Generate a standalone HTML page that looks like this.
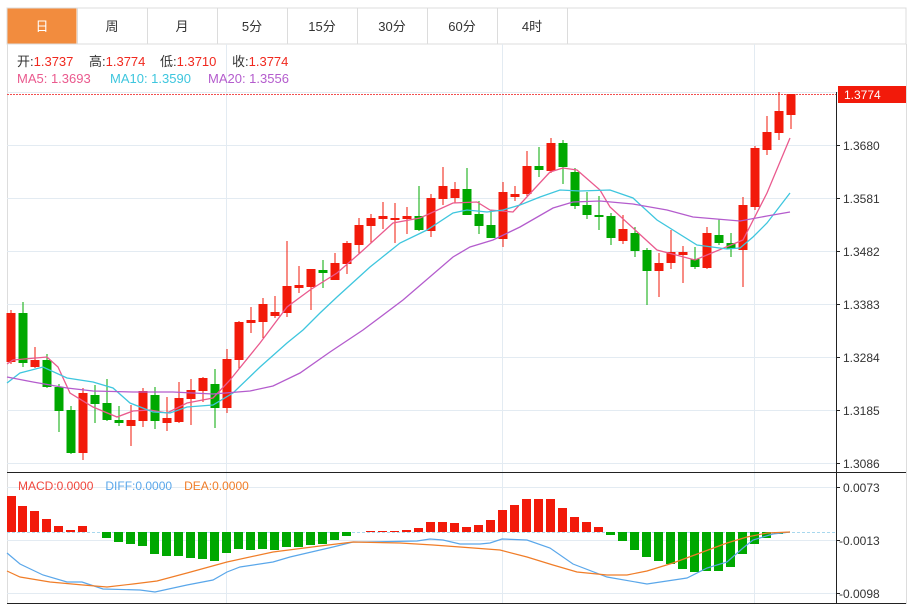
<!DOCTYPE html>
<html><head><meta charset="utf-8"><style>
body{margin:0;background:#fff;width:922px;height:607px;overflow:hidden;font-family:"Liberation Sans","Noto Sans CJK SC",sans-serif;}
svg{position:absolute;left:0;top:0}
</style></head><body>
<svg width="922" height="607" xmlns="http://www.w3.org/2000/svg" font-family="Liberation Sans, Noto Sans CJK SC, sans-serif">
<rect x="7" y="8" width="899" height="36" fill="#fff" stroke="#dcdcdc"/>
<rect x="7.5" y="8.5" width="69" height="35" fill="#f28c3e"/>
<g stroke="#dcdcdc"><line x1="77.5" y1="8" x2="77.5" y2="44"/><line x1="147.5" y1="8" x2="147.5" y2="44"/><line x1="217.5" y1="8" x2="217.5" y2="44"/><line x1="287.5" y1="8" x2="287.5" y2="44"/><line x1="357.5" y1="8" x2="357.5" y2="44"/><line x1="427.5" y1="8" x2="427.5" y2="44"/><line x1="497.5" y1="8" x2="497.5" y2="44"/><line x1="567.5" y1="8" x2="567.5" y2="44"/></g>
<g font-size="13" text-anchor="middle" fill="#333"><text x="42" y="31" fill="#fff">日</text><text x="112" y="31">周</text><text x="182" y="31">月</text><text x="252" y="31">5分</text><text x="322" y="31">15分</text><text x="392" y="31">30分</text><text x="462" y="31">60分</text><text x="532" y="31">4时</text></g>
<line x1="7.5" y1="44" x2="7.5" y2="604" stroke="#ddd"/>
<line x1="906.5" y1="44" x2="906.5" y2="604" stroke="#ddd"/>
<g stroke="#e3ebf2"><line x1="7" y1="145.5" x2="836" y2="145.5"/><line x1="7" y1="198.5" x2="836" y2="198.5"/><line x1="7" y1="251.5" x2="836" y2="251.5"/><line x1="7" y1="304.5" x2="836" y2="304.5"/><line x1="7" y1="357.5" x2="836" y2="357.5"/><line x1="7" y1="410.5" x2="836" y2="410.5"/><line x1="7" y1="463.5" x2="836" y2="463.5"/>
<line x1="7" y1="487.5" x2="836" y2="487.5"/><line x1="7" y1="540.5" x2="836" y2="540.5"/><line x1="7" y1="593.5" x2="836" y2="593.5"/>
<line x1="226.5" y1="44" x2="226.5" y2="604"/><line x1="502.5" y1="44" x2="502.5" y2="604"/><line x1="754.5" y1="44" x2="754.5" y2="604"/>
<line x1="7" y1="92.5" x2="906" y2="92.5"/></g>
<line x1="7" y1="94.5" x2="836" y2="94.5" stroke="#f25050" stroke-dasharray="2,1"/>
<g font-size="13">
<text x="17" y="66" fill="#333">开:<tspan fill="#f0281e">1.3737</tspan></text>
<text x="89" y="66" fill="#333">高:<tspan fill="#f0281e">1.3774</tspan></text>
<text x="160" y="66" fill="#333">低:<tspan fill="#f0281e">1.3710</tspan></text>
<text x="232" y="66" fill="#333">收:<tspan fill="#f0281e">1.3774</tspan></text>
<text x="17" y="83" fill="#ea5a8e">MA5: 1.3693</text>
<text x="110" y="83" fill="#3ec6de">MA10: 1.3590</text>
<text x="208" y="83" fill="#b45ccd">MA20: 1.3556</text>
<text x="18" y="490" fill="#f0463c" font-size="12">MACD:0.0000<tspan fill="#5aa7ea" dx="12">DIFF:0.0000</tspan><tspan fill="#f07d28" dx="12">DEA:0.0000</tspan></text></g>
<g fill="#f21a0a" stroke="#f21a0a" stroke-width="1">
<line x1="11" y1="310" x2="11" y2="364"/><rect x="6.5" y="313" width="9" height="49" stroke="none"/>
<line x1="35" y1="347" x2="35" y2="368"/><rect x="30.5" y="360" width="9" height="7" stroke="none"/>
<line x1="83" y1="388" x2="83" y2="460"/><rect x="78.5" y="393" width="9" height="60" stroke="none"/>
<line x1="131" y1="405" x2="131" y2="446"/><rect x="126.5" y="420" width="9" height="6" stroke="none"/>
<line x1="143" y1="388" x2="143" y2="427"/><rect x="138.5" y="391" width="9" height="30" stroke="none"/>
<line x1="167" y1="397" x2="167" y2="431"/><rect x="162.5" y="418" width="9" height="5" stroke="none"/>
<line x1="179" y1="382" x2="179" y2="423"/><rect x="174.5" y="398" width="9" height="24" stroke="none"/>
<line x1="191" y1="379" x2="191" y2="425"/><rect x="186.5" y="390" width="9" height="9" stroke="none"/>
<line x1="203" y1="377" x2="203" y2="402"/><rect x="198.5" y="378" width="9" height="13" stroke="none"/>
<line x1="227" y1="349" x2="227" y2="413"/><rect x="222.5" y="359" width="9" height="49" stroke="none"/>
<line x1="239" y1="321" x2="239" y2="369"/><rect x="234.5" y="322" width="9" height="38" stroke="none"/>
<line x1="251" y1="307" x2="251" y2="333"/><rect x="246.5" y="320" width="9" height="3" stroke="none"/>
<line x1="263" y1="298" x2="263" y2="338"/><rect x="258.5" y="304" width="9" height="18" stroke="none"/>
<line x1="275" y1="296" x2="275" y2="318"/><rect x="270.5" y="312" width="9" height="4" stroke="none"/>
<line x1="287" y1="241" x2="287" y2="317"/><rect x="282.5" y="286" width="9" height="27" stroke="none"/>
<line x1="299" y1="266" x2="299" y2="293"/><rect x="294.5" y="285" width="9" height="3" stroke="none"/>
<line x1="311" y1="269" x2="311" y2="310"/><rect x="306.5" y="269" width="9" height="18" stroke="none"/>
<line x1="335" y1="253" x2="335" y2="280"/><rect x="330.5" y="263" width="9" height="17" stroke="none"/>
<line x1="347" y1="241" x2="347" y2="274"/><rect x="342.5" y="243" width="9" height="21" stroke="none"/>
<line x1="359" y1="218" x2="359" y2="254"/><rect x="354.5" y="225" width="9" height="20" stroke="none"/>
<line x1="371" y1="214" x2="371" y2="243"/><rect x="366.5" y="218" width="9" height="8" stroke="none"/>
<line x1="383" y1="202" x2="383" y2="229"/><rect x="378.5" y="216" width="9" height="3" stroke="none"/>
<line x1="395" y1="203" x2="395" y2="243"/><rect x="390.5" y="218" width="9" height="2" stroke="none"/>
<line x1="407" y1="207" x2="407" y2="234"/><rect x="402.5" y="216" width="9" height="3" stroke="none"/>
<line x1="431" y1="194" x2="431" y2="237"/><rect x="426.5" y="198" width="9" height="33" stroke="none"/>
<line x1="443" y1="167" x2="443" y2="205"/><rect x="438.5" y="186" width="9" height="13" stroke="none"/>
<line x1="455" y1="182" x2="455" y2="203"/><rect x="450.5" y="189" width="9" height="9" stroke="none"/>
<line x1="503" y1="182" x2="503" y2="247"/><rect x="498.5" y="192" width="9" height="47" stroke="none"/>
<line x1="515" y1="186" x2="515" y2="201"/><rect x="510.5" y="194" width="9" height="3" stroke="none"/>
<line x1="527" y1="151" x2="527" y2="196"/><rect x="522.5" y="166" width="9" height="28" stroke="none"/>
<line x1="551" y1="138" x2="551" y2="173"/><rect x="546.5" y="143" width="9" height="28" stroke="none"/>
<line x1="623" y1="215" x2="623" y2="244"/><rect x="618.5" y="229" width="9" height="12" stroke="none"/>
<line x1="659" y1="253" x2="659" y2="297"/><rect x="654.5" y="263" width="9" height="8" stroke="none"/>
<line x1="671" y1="230" x2="671" y2="269"/><rect x="666.5" y="252" width="9" height="11" stroke="none"/>
<line x1="683" y1="246" x2="683" y2="283"/><rect x="678.5" y="252" width="9" height="3" stroke="none"/>
<line x1="707" y1="227" x2="707" y2="269"/><rect x="702.5" y="233" width="9" height="35" stroke="none"/>
<line x1="743" y1="197" x2="743" y2="287"/><rect x="738.5" y="205" width="9" height="45" stroke="none"/>
<line x1="755" y1="146" x2="755" y2="210"/><rect x="750.5" y="148" width="9" height="59" stroke="none"/>
<line x1="767" y1="116" x2="767" y2="155"/><rect x="762.5" y="132" width="9" height="18" stroke="none"/>
<line x1="779" y1="92" x2="779" y2="140"/><rect x="774.5" y="111" width="9" height="22" stroke="none"/>
<line x1="791" y1="94" x2="791" y2="129"/><rect x="786.5" y="94" width="9" height="21" stroke="none"/>
</g>
<g fill="#00a800" stroke="#00a800" stroke-width="1">
<line x1="23" y1="302" x2="23" y2="367"/><rect x="18.5" y="313" width="9" height="50" stroke="none"/>
<line x1="47" y1="354" x2="47" y2="388"/><rect x="42.5" y="360" width="9" height="27" stroke="none"/>
<line x1="59" y1="384" x2="59" y2="432"/><rect x="54.5" y="387" width="9" height="24" stroke="none"/>
<line x1="71" y1="406" x2="71" y2="454"/><rect x="66.5" y="410" width="9" height="43" stroke="none"/>
<line x1="95" y1="385" x2="95" y2="423"/><rect x="90.5" y="395" width="9" height="9" stroke="none"/>
<line x1="107" y1="379" x2="107" y2="421"/><rect x="102.5" y="403" width="9" height="17" stroke="none"/>
<line x1="119" y1="406" x2="119" y2="426"/><rect x="114.5" y="420" width="9" height="3" stroke="none"/>
<line x1="155" y1="387" x2="155" y2="429"/><rect x="150.5" y="395" width="9" height="26" stroke="none"/>
<line x1="215" y1="369" x2="215" y2="428"/><rect x="210.5" y="384" width="9" height="24" stroke="none"/>
<line x1="323" y1="260" x2="323" y2="288"/><rect x="318.5" y="270" width="9" height="3" stroke="none"/>
<line x1="419" y1="186" x2="419" y2="231"/><rect x="414.5" y="216" width="9" height="14" stroke="none"/>
<line x1="467" y1="168" x2="467" y2="215"/><rect x="462.5" y="189" width="9" height="26" stroke="none"/>
<line x1="479" y1="201" x2="479" y2="234"/><rect x="474.5" y="214" width="9" height="12" stroke="none"/>
<line x1="491" y1="210" x2="491" y2="238"/><rect x="486.5" y="225" width="9" height="13" stroke="none"/>
<line x1="539" y1="147" x2="539" y2="177"/><rect x="534.5" y="166" width="9" height="4" stroke="none"/>
<line x1="563" y1="140" x2="563" y2="184"/><rect x="558.5" y="143" width="9" height="24" stroke="none"/>
<line x1="575" y1="168" x2="575" y2="209"/><rect x="570.5" y="172" width="9" height="34" stroke="none"/>
<line x1="587" y1="192" x2="587" y2="219"/><rect x="582.5" y="205" width="9" height="10" stroke="none"/>
<line x1="599" y1="196" x2="599" y2="230"/><rect x="594.5" y="215" width="9" height="2" stroke="none"/>
<line x1="611" y1="213" x2="611" y2="245"/><rect x="606.5" y="216" width="9" height="22" stroke="none"/>
<line x1="635" y1="227" x2="635" y2="257"/><rect x="630.5" y="233" width="9" height="18" stroke="none"/>
<line x1="647" y1="248" x2="647" y2="305"/><rect x="642.5" y="250" width="9" height="21" stroke="none"/>
<line x1="695" y1="247" x2="695" y2="269"/><rect x="690.5" y="259" width="9" height="8" stroke="none"/>
<line x1="719" y1="219" x2="719" y2="245"/><rect x="714.5" y="235" width="9" height="8" stroke="none"/>
<line x1="731" y1="233" x2="731" y2="257"/><rect x="726.5" y="243" width="9" height="6" stroke="none"/>
</g>
<g fill="none" stroke-width="1.3">
<polyline stroke="#ea5a8e" points="7,364 13,360 47,357 58,367 70,393 93,407 117,417 133,411 150,410 167,413 187,403 213,398 230,380 260,343 287,307 310,290 337,273 360,253 393,223 420,218 453,203 477,202 490,210 513,212 550,172 563,168 577,170 600,190 610,207 657,250 695,260 743,240 767,193 790,138"/>
<polyline stroke="#3ec6de" points="7,383 20,373 43,367 67,378 93,382 113,388 130,403 153,412 170,413 187,407 213,405 233,393 260,367 287,343 303,330 320,313 337,297 370,267 400,243 427,230 453,213 467,210 487,212 503,210 520,205 540,197 560,190 580,191 610,190 633,198 657,220 697,245 727,249 740,248 753,237 767,223 790,193"/>
<polyline stroke="#b45ccd" points="7,377 33,382 67,388 93,391 133,392 173,392 213,394 250,391 273,386 300,373 330,352 363,330 403,300 453,257 470,247 493,240 520,227 553,208 573,202 600,201 633,204 667,210 693,217 740,221 767,216 790,212"/>
</g>
<line x1="7" y1="532.5" x2="836" y2="532.5" stroke="#a8d8ee" stroke-dasharray="3,2"/>
<g fill="#f21a0a">
<rect x="7" y="496" width="9" height="36"/><rect x="18" y="506" width="9" height="26"/><rect x="30" y="511" width="9" height="21"/><rect x="42" y="519" width="9" height="13"/><rect x="54" y="526" width="9" height="6"/><rect x="66" y="530" width="9" height="2"/><rect x="78" y="526" width="9" height="6"/>
<rect x="366" y="531" width="9" height="1"/><rect x="378" y="531" width="9" height="1"/><rect x="390" y="531" width="9" height="1"/><rect x="402" y="530" width="9" height="2"/><rect x="414" y="528" width="9" height="4"/><rect x="426" y="522" width="9" height="10"/><rect x="438" y="522" width="9" height="10"/><rect x="450" y="523" width="9" height="9"/>
<rect x="462" y="527" width="9" height="5"/><rect x="474" y="525" width="9" height="7"/><rect x="486" y="520" width="9" height="12"/><rect x="498" y="510" width="9" height="22"/><rect x="510" y="505" width="9" height="27"/><rect x="522" y="499" width="9" height="33"/><rect x="534" y="499" width="9" height="33"/><rect x="546" y="499" width="9" height="33"/><rect x="558" y="508" width="9" height="24"/><rect x="570" y="517" width="9" height="15"/><rect x="582" y="522" width="9" height="10"/><rect x="594" y="527" width="9" height="5"/>
</g>
<g fill="#00a800">
<rect x="102" y="532" width="9" height="6"/><rect x="114" y="532" width="9" height="10"/><rect x="126" y="532" width="9" height="12"/><rect x="138" y="532" width="9" height="14"/><rect x="150" y="532" width="9" height="22"/><rect x="162" y="532" width="9" height="24"/><rect x="174" y="532" width="9" height="24"/><rect x="186" y="532" width="9" height="26"/><rect x="198" y="532" width="9" height="27"/><rect x="210" y="532" width="9" height="29"/><rect x="222" y="532" width="9" height="21"/><rect x="234" y="532" width="9" height="17"/><rect x="246" y="532" width="9" height="18"/><rect x="258" y="532" width="9" height="17"/><rect x="270" y="532" width="9" height="18"/><rect x="282" y="532" width="9" height="15"/><rect x="294" y="532" width="9" height="15"/><rect x="306" y="532" width="9" height="13"/><rect x="318" y="532" width="9" height="12"/><rect x="330" y="532" width="9" height="8"/><rect x="342" y="532" width="9" height="4"/>
<rect x="606" y="532" width="9" height="3"/><rect x="618" y="532" width="9" height="9"/><rect x="630" y="532" width="9" height="18"/><rect x="642" y="532" width="9" height="25"/><rect x="654" y="532" width="9" height="29"/><rect x="666" y="532" width="9" height="32"/><rect x="678" y="532" width="9" height="37"/><rect x="690" y="532" width="9" height="40"/><rect x="702" y="532" width="9" height="39"/><rect x="714" y="532" width="9" height="39"/><rect x="726" y="532" width="9" height="35"/><rect x="738" y="532" width="9" height="22"/><rect x="750" y="532" width="9" height="12"/><rect x="762" y="532" width="9" height="6"/><rect x="774" y="532" width="9" height="2"/>
</g>
<g fill="none" stroke-width="1.2">
<polyline stroke="#5aa7ea" points="7,553 20,564 43,575 67,582 82,582 103,589 140,590 155,592 187,585 213,580 227,572 240,567 273,562 290,557 320,550 333,547 353,542 367,542 417,541 430,539 443,540 460,544 480,544 490,543 502,539 527,540 550,548 573,564 607,577 647,584 687,578 707,568 727,562 743,548 753,540 773,534 790,532"/>
<polyline stroke="#f07d28" points="7,571 20,577 50,582 83,585 107,587 133,584 157,581 187,573 227,562 273,552 320,546 353,542 400,543 433,545 460,547 500,550 527,557 553,565 577,572 607,575 627,575 647,571 673,563 700,553 727,543 747,537 767,533 790,532"/>
</g>
<line x1="7" y1="472.5" x2="906" y2="472.5" stroke="#222"/>
<line x1="7" y1="603.5" x2="906" y2="603.5" stroke="#222"/>
<line x1="836.5" y1="92" x2="836.5" y2="604" stroke="#222"/>
<g stroke="#222"><line x1="836" y1="145.5" x2="840" y2="145.5"/><line x1="836" y1="198.5" x2="840" y2="198.5"/><line x1="836" y1="251.5" x2="840" y2="251.5"/><line x1="836" y1="304.5" x2="840" y2="304.5"/><line x1="836" y1="357.5" x2="840" y2="357.5"/><line x1="836" y1="410.5" x2="840" y2="410.5"/><line x1="836" y1="463.5" x2="840" y2="463.5"/><line x1="836" y1="487.5" x2="840" y2="487.5"/><line x1="836" y1="540.5" x2="840" y2="540.5"/><line x1="836" y1="593.5" x2="840" y2="593.5"/></g>
<rect x="838" y="86" width="68" height="17" fill="#f21a0a"/>
<text x="844" y="99" font-size="12" fill="#fff">1.3774</text>
<g font-size="12" fill="#333"><text x="843" y="150">1.3680</text><text x="843" y="203">1.3581</text><text x="843" y="256">1.3482</text><text x="843" y="309">1.3383</text><text x="843" y="362">1.3284</text><text x="843" y="415">1.3185</text><text x="843" y="468">1.3086</text><text x="843" y="492">0.0073</text><text x="839" y="545">-0.0013</text><text x="839" y="598">-0.0098</text></g>
</svg>
</body></html>
